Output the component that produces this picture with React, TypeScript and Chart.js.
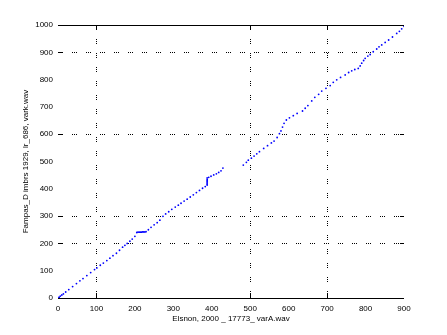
import React, { useEffect, useRef } from "react";
import { Chart, registerables } from "chart.js";

Chart.register(...registerables);

const xValues = [
  0, 3, 6, 10, 14, 20, 28, 38, 48, 57, 65, 75, 85, 95, 101, 110, 118, 127, 135, 143,
  152, 160, 168, 174, 180, 187, 193, 200, 205, 208, 211, 214, 217, 220, 223, 226, 229,
  235, 242, 250, 258, 265, 273, 280, 288, 296, 305, 313, 320, 328, 336, 344, 352, 360,
  368, 376, 383, 388, 388, 388, 388, 388, 388, 388, 392, 398, 405, 412, 418, 424, 429,
  482, 490, 495, 503, 510, 517, 524, 535, 545, 555, 562, 570, 576, 580, 584, 588, 594,
  602, 612, 622, 636, 643, 650, 660, 668, 678, 686, 697, 708, 716, 725, 735, 747, 756,
  764, 772, 781, 786, 790, 795, 799, 806, 812, 820, 829, 835, 842, 851, 860, 870, 881,
  888, 894, 900,
];
const yValues = [
  0, 3, 7, 11, 15, 22, 31, 42, 53, 63, 71, 82, 93, 104, 110, 120, 128, 137, 146, 155,
  164, 175, 186, 193, 200, 208, 216, 226, 240, 241, 241, 241, 241, 242, 242, 242, 243,
  250, 259, 268, 276, 285, 299, 308, 316, 325, 333, 340, 347, 355, 362, 370, 378, 386,
  394, 402, 408, 414, 418, 422, 426, 430, 434, 440, 442, 446, 451, 455, 460, 466, 476,
  487, 497, 505, 512, 520, 528, 536, 548, 558, 568, 575, 588, 602, 612, 626, 640, 652,
  660, 668, 676, 685, 695, 705, 722, 735, 746, 758, 768, 778, 790, 799, 808, 817, 826,
  832, 837, 841, 850, 860, 870, 878, 886, 892, 902, 912, 920, 927, 936, 945, 956, 969,
  977, 986, 995,
];
const xTicks = [0, 100, 200, 300, 400, 500, 600, 700, 800, 900];
const yTicks = [0, 100, 200, 300, 400, 500, 600, 700, 800, 900, 1000];
const xGrid = [100, 500, 700];
const yGrid = [200, 300, 600, 900];
const xLabel = "Elsnon, 2000 _ 17773_ varA.wav";
const yLabel = "Fampas_D imbrs 1929, lr_686, vark.wav";

const FONT = "'Liberation Sans', Arial, sans-serif";
const DOTS = [1, 1, 1, 1, 1, 9];

const framePlugin = {
  id: "frame",
  afterDraw(chart: any) {
    const { ctx, chartArea: a, scales } = chart;
    ctx.save();
    ctx.strokeStyle = "#000";
    ctx.lineWidth = 1;
    ctx.setLineDash([]);
    ctx.beginPath();
    ctx.moveTo(a.left, Math.round(a.top) + 0.5);
    ctx.lineTo(a.right, Math.round(a.top) + 0.5);
    ctx.moveTo(a.left, Math.round(a.bottom) + 0.5);
    ctx.lineTo(a.right, Math.round(a.bottom) + 0.5);
    for (const v of xGrid) {
      const px = Math.round(scales.x.getPixelForValue(v)) + 0.5;
      ctx.moveTo(px, a.bottom);
      ctx.lineTo(px, a.bottom - 4);
      ctx.moveTo(px, a.top);
      ctx.lineTo(px, a.top + 4);
    }
    for (const v of yGrid) {
      const py = Math.round(scales.y.getPixelForValue(v)) + 0.5;
      ctx.moveTo(a.left, py);
      ctx.lineTo(a.left + 4, py);
      ctx.moveTo(a.right, py);
      ctx.lineTo(a.right - 4, py);
    }
    ctx.stroke();
    ctx.restore();
  },
};

export default function App() {
  const ref = useRef<HTMLCanvasElement | null>(null);
  useEffect(() => {
    if (!ref.current) return;
    const data = xValues.map((x, i) => ({ x, y: yValues[i] }));
    const chart = new Chart(ref.current, {
      type: "scatter",
      data: {
        datasets: [
          {
            data,
            backgroundColor: "#0000ff",
            borderColor: "#0000ff",
            pointRadius: 0.9,
            pointBorderWidth: 0,
            pointHoverRadius: 0.9,
          },
        ],
      },
      plugins: [framePlugin],
      options: {
        animation: false,
        responsive: true,
        maintainAspectRatio: false,
        layout: { padding: { left: 0, right: 43, top: 25, bottom: 0 } },
        plugins: { legend: { display: false }, tooltip: { enabled: false } },
        scales: {
          x: {
            type: "linear",
            min: 0,
            max: 900,
            afterBuildTicks: (s: any) => {
              s.ticks = xTicks.map((v) => ({ value: v }));
            },
            afterFit: (s: any) => {
              s.height = 37;
            },
            ticks: {
              color: "#000",
              font: { family: FONT, size: 8 },
              padding: 6,
              maxRotation: 0,
              autoSkip: false,
              callback: (v: any) => String(v),
            },
            grid: {
              drawTicks: false,
              color: (c: any) => (c.tick && xGrid.includes(c.tick.value) ? "#000" : "transparent"),
              lineWidth: 1,
            },
            border: { display: false, dash: DOTS },
            title: {
              display: true,
              text: xLabel,
              color: "#000",
              font: { family: FONT, size: 8 },
              padding: { top: 0, bottom: 11 },
            },
          },
          y: {
            type: "linear",
            min: 0,
            max: 1000,
            afterBuildTicks: (s: any) => {
              s.ticks = yTicks.map((v) => ({ value: v }));
            },
            afterFit: (s: any) => {
              s.width = 58;
            },
            ticks: {
              color: "#000",
              font: { family: FONT, size: 8 },
              padding: 5,
              autoSkip: false,
              callback: (v: any) => String(v),
            },
            grid: {
              drawTicks: false,
              color: (c: any) => (c.tick && yGrid.includes(c.tick.value) ? "#000" : "transparent"),
              lineWidth: 1,
            },
            border: { display: false, dash: DOTS },
            title: {
              display: true,
              text: yLabel,
              color: "#000",
              font: { family: FONT, size: 8 },
              padding: { top: 21, bottom: 0 },
            },
          },
        },
      },
    });
    return () => chart.destroy();
  }, []);
  return (
    <div style={{ position: "absolute", left: 0, top: 0, width: 447, height: 335, background: "#fff" }}>
      <canvas ref={ref} />
    </div>
  );
}
